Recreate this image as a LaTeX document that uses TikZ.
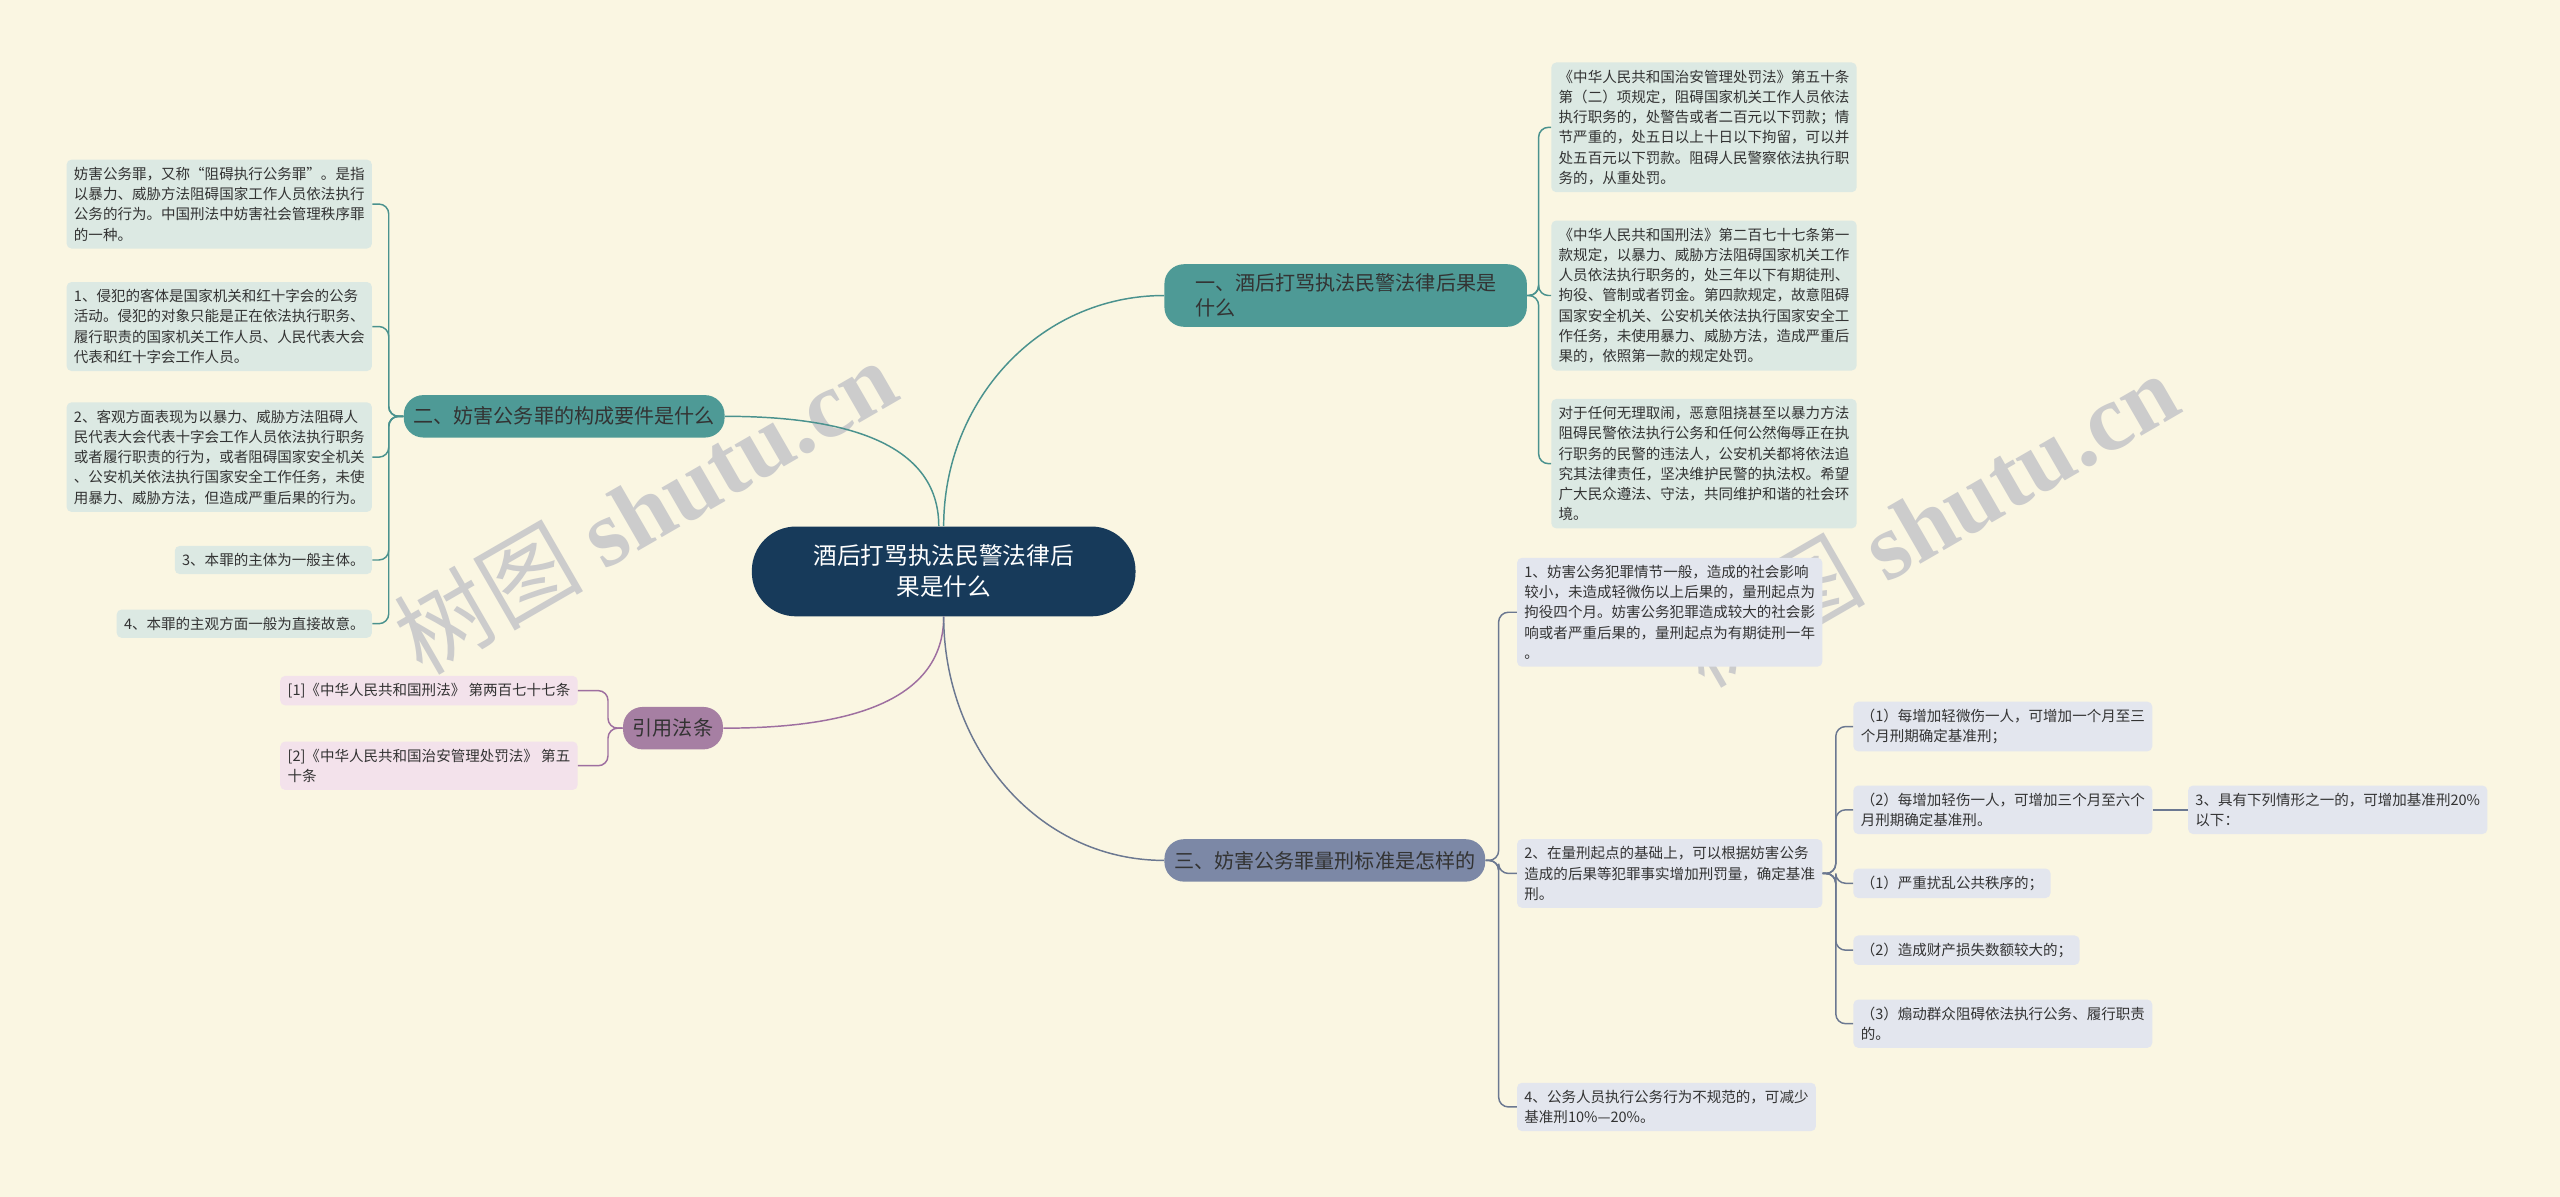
\documentclass[tikz,border=0pt]{standalone}
\usepackage{fontspec}
\setmainfont{Noto Sans CJK SC}
\newfontfamily\wmfont{Liberation Serif}
\begin{document}
\begin{tikzpicture}[x=1pt,y=-1pt,
  leaf/.style={rounded corners=3pt,inner sep=4.5pt,align=left,text=black!80,font=\fontsize{8.9}{12.4}\selectfont},
  tleaf/.style={leaf,fill=tealL},
  sleaf/.style={leaf,fill=slateL},
  pleaf/.style={leaf,fill=purpL},
  br/.style={rounded corners=12pt,inner sep=6pt,align=left,text=black!80,font=\fontsize{12.3}{15}\selectfont,minimum height=26pt},
  tl/.style={draw=tealD,line width=0.9pt},
  sl/.style={draw=slateD,line width=0.9pt},
  pl/.style={draw=purpD,line width=0.9pt},
  brk/.style={rounded corners=6pt}]
\definecolor{bg}{HTML}{FAF6E2}
\definecolor{tealB}{HTML}{4E9A96}
\definecolor{tealD}{HTML}{4A928E}
\definecolor{tealL}{HTML}{DCE9E3}
\definecolor{slateB}{HTML}{7C88A6}
\definecolor{slateD}{HTML}{6B7891}
\definecolor{slateL}{HTML}{E3E6EE}
\definecolor{purpB}{HTML}{A67FA3}
\definecolor{purpD}{HTML}{9E6FA0}
\definecolor{purpL}{HTML}{F3E2EB}
\definecolor{navy}{HTML}{173A5A}
\fill[bg] (0,0) rectangle (1568,733);
\useasboundingbox (0,0) rectangle (1568,733);
\node[rotate=30,text=gray!40,font=\fontsize{58}{60}\selectfont] (wm1) at (395,310) {树图 {\wmfont\bfseries shutu.cn}};
\node[rotate=30,text=gray!40,font=\fontsize{58}{60}\selectfont] (wm2) at (1180,318) {树图 {\wmfont\bfseries shutu.cn}};

\node[fill=navy,text=white,rounded corners=27pt,minimum width=235pt,minimum height=55pt,align=center,font=\fontsize{14.5}{19}\selectfont] (c) at (578,350) {酒后打骂执法民警法律后\\果是什么};

\node[br,fill=tealB,anchor=west,minimum width=222pt] (b1) at (713,181) {一、酒后打骂执法民警法律后果是\\什么};
\node[br,fill=tealB,anchor=east] (b2) at (444,255) {二、妨害公务罪的构成要件是什么};
\node[br,fill=purpB,anchor=east] (b4) at (443,446) {引用法条};
\node[br,fill=slateB,anchor=west] (b3) at (713,527) {三、妨害公务罪量刑标准是怎样的};

\draw[tl] (c.north) to[out=90,in=180] (b1.west);
\draw[tl] ([xshift=-3pt]c.north) to[out=90,in=0] (b2.east);
\draw[pl] (c.south) to[out=-90,in=0] (b4.east);
\draw[sl] (c.south) to[out=-90,in=180] (b3.west);

% right teal leaves
\node[tleaf,anchor=west] (r1) at (950,78) {《中华人民共和国治安管理处罚法》第五十条\\第（二）项规定，阻碍国家机关工作人员依法\\执行职务的，处警告或者二百元以下罚款；情\\节严重的，处五日以上十日以下拘留，可以并\\处五百元以下罚款。阻碍人民警察依法执行职\\务的，从重处罚。};
\node[tleaf,anchor=west] (r2) at (950,181) {《中华人民共和国刑法》第二百七十七条第一\\款规定，以暴力、威胁方法阻碍国家机关工作\\人员依法执行职务的，处三年以下有期徒刑、\\拘役、管制或者罚金。第四款规定，故意阻碍\\国家安全机关、公安机关依法执行国家安全工\\作任务，未使用暴力、威胁方法，造成严重后\\果的，依照第一款的规定处罚。};
\node[tleaf,anchor=west] (r3) at (950,284) {对于任何无理取闹，恶意阻挠甚至以暴力方法\\阻碍民警依法执行公务和任何公然侮辱正在执\\行职务的民警的违法人，公安机关都将依法追\\究其法律责任，坚决维护民警的执法权。希望\\广大民众遵法、守法，共同维护和谐的社会环\\境。};
\foreach \n in {r1,r2,r3} \draw[tl,brk] (b1.east) -- ++(7,0) |- (\n.west);

% left teal leaves
\node[tleaf,anchor=east] (l1) at (228,125) {妨害公务罪，又称“阻碍执行公务罪”。是指\\以暴力、威胁方法阻碍国家工作人员依法执行\\公务的行为。中国刑法中妨害社会管理秩序罪\\的一种。};
\node[tleaf,anchor=east] (l2) at (228,200) {1、侵犯的客体是国家机关和红十字会的公务\\活动。侵犯的对象只能是正在依法执行职务、\\履行职责的国家机关工作人员、人民代表大会\\代表和红十字会工作人员。};
\node[tleaf,anchor=east] (l3) at (228,280) {2、客观方面表现为以暴力、威胁方法阻碍人\\民代表大会代表十字会工作人员依法执行职务\\或者履行职责的行为，或者阻碍国家安全机关\\、公安机关依法执行国家安全工作任务，未使\\用暴力、威胁方法，但造成严重后果的行为。};
\node[tleaf,anchor=east] (l4) at (228,343) {3、本罪的主体为一般主体。};
\node[tleaf,anchor=east] (l5) at (228,382) {4、本罪的主观方面一般为直接故意。};
\foreach \n in {l1,l2,l3,l4,l5} \draw[tl,brk] (b2.west) -- ++(-9,0) |- (\n.east);

% purple leaves
\node[pleaf,anchor=east] (q1) at (354,423) {[1]《中华人民共和国刑法》 第两百七十七条};
\node[pleaf,anchor=east] (q2) at (354,469) {[2]《中华人民共和国治安管理处罚法》 第五\\十条};
\foreach \n in {q1,q2} \draw[pl,brk] (b4.west) -- ++(-9,0) |- (\n.east);

% slate leaves
\node[sleaf,anchor=west] (s1) at (929,375) {1、妨害公务犯罪情节一般，造成的社会影响\\较小，未造成轻微伤以上后果的，量刑起点为\\拘役四个月。妨害公务犯罪造成较大的社会影\\响或者严重后果的，量刑起点为有期徒刑一年\\。};
\node[sleaf,anchor=west] (s2) at (929,535) {2、在量刑起点的基础上，可以根据妨害公务\\造成的后果等犯罪事实增加刑罚量，确定基准\\刑。};
\node[sleaf,anchor=west] (s4) at (929,678) {4、公务人员执行公务行为不规范的，可减少\\基准刑10\%—20\%。};
\foreach \n in {s1,s2,s4} \draw[sl,brk] (b3.east) -- ++(8,0) |- (\n.west);

\node[sleaf,anchor=west] (p1) at (1135,445) {（1）每增加轻微伤一人，可增加一个月至三\\个月刑期确定基准刑；};
\node[sleaf,anchor=west] (p2) at (1135,496) {（2）每增加轻伤一人，可增加三个月至六个\\月刑期确定基准刑。};
\node[sleaf,anchor=west] (p3) at (1135,541) {（1）严重扰乱公共秩序的；};
\node[sleaf,anchor=west] (p4) at (1135,582) {（2）造成财产损失数额较大的；};
\node[sleaf,anchor=west] (p5) at (1135,627) {（3）煽动群众阻碍依法执行公务、履行职责\\的。};
\foreach \n in {p1,p2,p3,p4,p5} \draw[sl,brk] (s2.east) -- ++(8,0) |- (\n.west);
\node[sleaf,anchor=west] (p6) at (1340,496) {3、具有下列情形之一的，可增加基准刑20\%\\以下：};
\draw[sl] (p2.east) -- (p6.west);
\end{tikzpicture}
\end{document}
